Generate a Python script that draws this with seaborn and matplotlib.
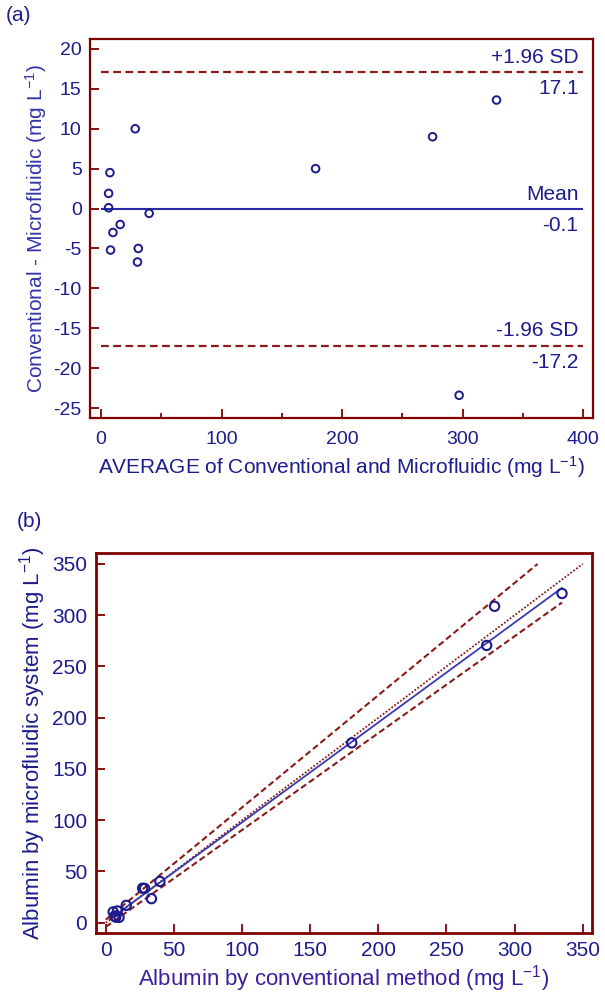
import numpy as np
import seaborn as sns
import matplotlib.pyplot as plt

# paired measurements (mg/L)
conventional = np.array([7.35, 6.45, 9.75, 5.4, 8.5, 15.0, 33.5, 27.0, 28.5, 39.7,
                         180.5, 279.5, 285.3, 334.8])
microfluidic = np.array([5.45, 6.35, 5.25, 10.6, 11.5, 17.0, 23.5, 33.7, 33.5, 40.3,
                         175.5, 270.5, 308.7, 321.2])

# Bland-Altman statistics as printed on the chart
mean_diff = -0.1
upper_loa = 17.1
lower_loa = -17.2

# method comparison regression and its confidence lines (intercept, slope)
fit_line = (0.6, 0.974)
upper_ci = (3.0, 1.095)
lower_ci = (-4.0, 0.945)

maroon = "#800000"
dark_red = "#8b1a1a"
navy = "#1c1c8c"
blue = "#2b2ba6"

sns.set_style("ticks")
plt.rcParams["font.family"] = ["Liberation Sans", "DejaVu Sans"]
plt.rcParams["mathtext.fontset"] = "custom"
plt.rcParams["mathtext.rm"] = "Liberation Sans"
plt.rcParams["mathtext.it"] = "Liberation Sans"
plt.rcParams["axes.unicode_minus"] = False

fig = plt.figure(figsize=(6.05, 10), dpi=100)
ax1 = fig.add_axes([0.1488, 0.582, 0.8314, 0.379])
ax2 = fig.add_axes([0.158, 0.067, 0.8205, 0.380])

for ax in (ax1, ax2):
    for sp in ax.spines.values():
        sp.set_color(maroon)
    ax.tick_params(direction="in", color=maroon, labelcolor=navy, length=6.5, width=1.3,
                   pad=6)
    ax.tick_params(which="minor", direction="in", color=maroon, length=3.5, width=1.3)
for sp in ax1.spines.values():
    sp.set_linewidth(1.6)
for sp in ax2.spines.values():
    sp.set_linewidth(2.0)

# ---- (a) Bland-Altman plot
average = (conventional + microfluidic) / 2
difference = conventional - microfluidic

sns.scatterplot(x=average, y=difference, ax=ax1, marker="o", s=30, fc="none", ec=navy,
                linewidth=1.4, zorder=3)
ax1.hlines([upper_loa, lower_loa], 0, 400, colors=dark_red, linestyles=(0, (3.5, 2)),
           linewidth=1.6)
ax1.hlines(mean_diff, 0, 400, colors=blue, linewidth=1.5)

for yv, top, bottom in [(upper_loa, "+1.96 SD", f"{upper_loa:.1f}"),
                        (mean_diff, "Mean", f"{mean_diff:.1f}"),
                        (lower_loa, "-1.96 SD", f"{lower_loa:.1f}")]:
    ax1.annotate(top, (396, yv), xytext=(0, 4), textcoords="offset points",
                 ha="right", va="bottom", fontsize=15, color=navy)
    ax1.annotate(bottom, (396, yv), xytext=(0, -5), textcoords="offset points",
                 ha="right", va="top", fontsize=15, color=navy)

ax1.set_xlim(-9, 408)
ax1.set_ylim(-26.25, 21.25)
ax1.set_xticks(np.arange(0, 401, 100))
ax1.set_xticks(np.arange(50, 400, 100), minor=True)
ax1.set_yticks(np.arange(-25, 21, 5))
ax1.tick_params(labelsize=14)
ax1.tick_params(axis="x", pad=9)
ax1.set_xlabel("AVERAGE of Conventional and Microfluidic (mg L$^{-1}$)", fontsize=15,
               color=navy, labelpad=5)
ax1.set_ylabel("Conventional - Microfluidic (mg L$^{-1}$)", fontsize=15, color="#3434a8",
               labelpad=3)
fig.text(0.01, 0.994, "(a)", fontsize=15, color=navy, ha="left", va="top")

# ---- (b) method comparison
xs_fit = np.array([conventional.min(), conventional.max()])
ax2.plot(xs_fit, fit_line[0] + fit_line[1] * xs_fit, color="#3a3ab0", linewidth=1.3,
         zorder=2)
ident = np.array([0, 350])
ax2.plot(ident, ident, color=dark_red, linestyle=(0, (1, 1)), linewidth=1.3, zorder=1)
for a, b in (upper_ci, lower_ci):
    x_end = min(conventional.max(), (350 - a) / b)
    xs = np.array([0, x_end])
    ax2.plot(xs, a + b * xs, color=dark_red, linestyle=(0, (3, 1.6)), linewidth=1.5,
             zorder=1)
sns.scatterplot(x=conventional, y=microfluidic, ax=ax2, marker="o", s=45, fc="none",
                ec=navy, linewidth=1.5, zorder=3)

ax2.set_xlim(-7.5, 356.8)
ax2.set_ylim(-10, 360.7)
ax2.set_xticks(np.arange(0, 351, 50))
ax2.set_yticks(np.arange(0, 351, 50))
ax2.tick_params(labelsize=15)
ax2.tick_params(axis="x", pad=6)
ax2.set_xlabel("Albumin by conventional method (mg L$^{-1}$)", fontsize=16,
               color="#3a1fa0", labelpad=2)
ax2.set_ylabel("Albumin by microfluidic system (mg L$^{-1}$)", fontsize=16, color=navy,
               labelpad=3)
fig.text(0.027, 0.488, "(b)", fontsize=15, color=navy, ha="left", va="top")

fig.savefig("out.png", dpi=100)
